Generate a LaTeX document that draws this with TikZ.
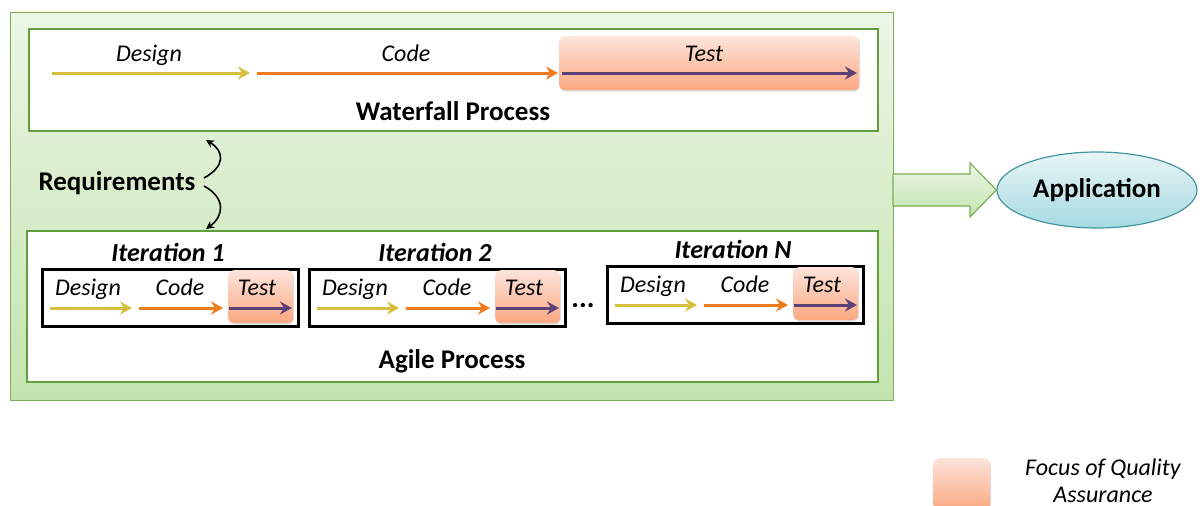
\documentclass[tikz,border=0pt]{standalone}
\usepackage{fontspec}
\setmainfont{Carlito}
\usetikzlibrary{arrows.meta,shapes.geometric,shadows}

\definecolor{outertop}{HTML}{ECF6E6}
\definecolor{outerbot}{HTML}{C3E4AE}
\definecolor{outerline}{HTML}{7DAE55}
\definecolor{panelline}{HTML}{629E3E}
\definecolor{designcol}{HTML}{D5BF3C}
\definecolor{codecol}{HTML}{EE7B1E}
\definecolor{testcol}{HTML}{5C4178}
\definecolor{qatop}{HTML}{FDE4DB}
\definecolor{qabot}{HTML}{FBA881}
\definecolor{apptop}{HTML}{E8F5F7}
\definecolor{appbot}{HTML}{A6DAE1}
\definecolor{appline}{HTML}{44959F}

% one iteration of the agile cycle: #1 name, #2 x, #3 y, #4 title
\newcommand{\iterstep}[4]{%
  \begin{scope}[shift={(#2,#3)}]
    \node[iterframe] (#1) at (0,0) {};
    \node[qabox, minimum width=65pt, minimum height=53pt] (#1q) at (187,2) {};
    \node[ititle] (#1h) at (127,-7) {#4};
    \node[lbl] (#1d) at (47,27) {Design};
    \node[lbl] (#1c) at (139,27) {Code};
    \node[lbl] (#1t) at (216,27) {Test};
    \coordinate (#1a1) at (9,40);   \coordinate (#1a2) at (91,40);
    \coordinate (#1b1) at (98,40);  \coordinate (#1b2) at (182,40);
    \coordinate (#1c1) at (188,40); \coordinate (#1c2) at (251,40);
    \draw[flow, designcol] (#1a1) -- (#1a2);
    \draw[flow, codecol] (#1b1) -- (#1b2);
    \draw[flow, testcol] (#1c1) -- (#1c2);
  \end{scope}}

\begin{document}
\begin{tikzpicture}[x=1pt, y=-1pt,
  lbl/.style={font=\itshape\fontsize{24}{28}\selectfont, anchor=base, inner sep=0pt},
  ttl/.style={font=\bfseries\fontsize{27}{30}\selectfont, anchor=base, inner sep=0pt},
  ititle/.style={font=\bfseries\itshape\fontsize{26}{30}\selectfont, anchor=base, inner sep=0pt},
  panel/.style={draw=panelline, line width=2.4pt, fill=white, anchor=north west, inner sep=0pt},
  iterframe/.style={draw=black, line width=3pt, fill=white, anchor=north west, inner sep=0pt,
    minimum width=256pt, minimum height=57pt},
  qabox/.style={anchor=north west, inner sep=0pt, rounded corners=6pt,
    top color=qatop, bottom color=qabot,
    drop shadow={opacity=0.25, shadow xshift=0.8pt, shadow yshift=-1.5pt}},
  flow/.style={line width=3pt, -{Stealth[length=12pt, width=13pt, inset=4pt]}},
  reqarrow/.style={line width=1.6pt, -{Stealth[length=8pt, width=8pt]}},
]
\useasboundingbox (0,0) rectangle (1203,506);

% surrounding development process
\node[anchor=north west, inner sep=0pt, minimum width=883pt, minimum height=388pt,
  top color=outertop, bottom color=outerbot, draw=outerline, line width=1.2pt] (outer) at (10,12) {};

% waterfall panel
\node[panel, minimum width=849pt, minimum height=102pt] (wf) at (28,28) {};
\node[qabox, minimum width=300pt, minimum height=54pt] (wfq) at (559,36) {};
\node[lbl] (wfd) at (149,61) {Design};
\node[lbl] (wfc) at (406,61) {Code};
\node[lbl] (wft) at (704,61) {Test};
\coordinate (wfa1) at (52,73);  \coordinate (wfa2) at (250,73);
\coordinate (wfb1) at (257,73); \coordinate (wfb2) at (558,73);
\coordinate (wfc1) at (562,73); \coordinate (wfc2) at (857,73);
\draw[flow, designcol] (wfa1) -- (wfa2);
\draw[flow, codecol] (wfb1) -- (wfb2);
\draw[flow, testcol] (wfc1) -- (wfc2);
\node[ttl] (wfl) at (453,120) {Waterfall Process};

% agile panel
\node[panel, minimum width=851pt, minimum height=151pt] (ag) at (26,230) {};
\iterstep{it1}{41}{268}{Iteration 1}
\iterstep{it2}{308}{268}{Iteration 2}
\iterstep{itn}{606}{265}{Iteration N}
\node[font=\bfseries\fontsize{29}{30}\selectfont, anchor=base, inner sep=0pt] (dots) at (583,307) {...};
\node[ttl] (agl) at (452,368) {Agile Process};

% requirements feeding both processes
\node[ttl] (req) at (117,190) {Requirements};
\coordinate (rq1) at (204,178); \coordinate (rq2) at (206,140);
\coordinate (rq3) at (204,186); \coordinate (rq4) at (206,229);
\draw[reqarrow] (rq1) .. controls (226,166) and (224,151) .. (rq2);
\draw[reqarrow] (rq3) .. controls (226,198) and (224,216) .. (rq4);

% resulting application
\node[ellipse, minimum width=200pt, minimum height=76pt, inner sep=0pt,
  top color=apptop, bottom color=appbot, draw=appline, line width=1.2pt,
  font=\bfseries\fontsize{27}{30}\selectfont] (app) at (1097,190) {Application};
\shade[top color=outertop, bottom color=outerbot, draw=outerline, line width=1.2pt]
  (893,174) -- (970,174) -- (970,163) -- (app.west) -- (970,217) -- (970,206) -- (893,206) -- cycle;

% legend
\node[qabox, minimum width=57pt, minimum height=52pt] (key) at (933,458) {};
\node[lbl] (keyl1) at (1103,475) {Focus of Quality};
\node[lbl] (keyl2) at (1103,502) {Assurance};
\end{tikzpicture}
\end{document}
